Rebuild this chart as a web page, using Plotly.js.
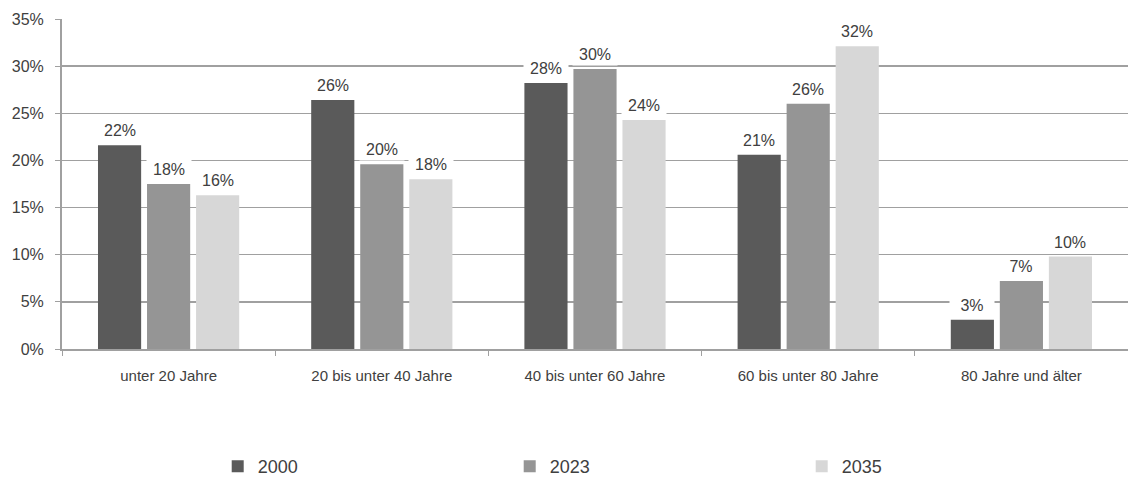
<!DOCTYPE html>
<html><head><meta charset="utf-8">
<script src="https://cdn.plot.ly/plotly-3.0.1.min.js"></script>
<style>html,body{margin:0;padding:0;background:#fff}#chart{width:1128px;height:477px}</style>
</head><body><div id="chart"></div>
<script>
const categories = ["unter 20 Jahre", "20 bis unter 40 Jahre", "40 bis unter 60 Jahre", "60 bis unter 80 Jahre", "80 Jahre und älter"];
const seriesNames = ["2000", "2023", "2035"];
const values2000 = [21.6, 26.4, 28.2, 20.6, 3.1];
const values2023 = [17.5, 19.6, 29.7, 26.0, 7.2];
const values2035 = [16.3, 18.0, 24.3, 32.1, 9.8];
const labels2000 = ["22%", "26%", "28%", "21%", "3%"];
const labels2023 = ["18%", "20%", "30%", "26%", "7%"];
const labels2035 = ["16%", "18%", "24%", "32%", "10%"];
const yTicks = [0, 5, 10, 15, 20, 25, 30, 35];

const colors = ["#5a5a5a", "#959595", "#d7d7d7"];
const seriesValues = [values2000, values2023, values2035];
const seriesLabels = [labels2000, labels2023, labels2035];
const FONT = "Liberation Sans, Arial, sans-serif";
const bargap = 0.31;
const slot = (1 - bargap) / 3;

const traces = seriesValues.map((vals, s) => ({
  type: "bar",
  name: seriesNames[s],
  x: categories,
  y: vals,
  marker: {color: colors[s], line: {width: 0}},
  hoverinfo: "skip"
}));

const annotations = [];
seriesValues.forEach((vals, s) => {
  vals.forEach((v, i) => {
    annotations.push({
      x: i + (s - 1) * slot,
      y: v,
      xref: "x", yref: "y",
      text: seriesLabels[s][i],
      showarrow: false,
      yanchor: "bottom",
      yshift: 3,
      bgcolor: "#ffffff",
      width: 42,
      height: 19,
      font: {family: FONT, size: 16, color: "#404040"}
    });
  });
});

const layout = {
  width: 1128, height: 477,
  margin: {l: 62, r: 0, t: 19, b: 128, autoexpand: false},
  paper_bgcolor: "#ffffff",
  plot_bgcolor: "#ffffff",
  barmode: "group",
  bargap: bargap,
  bargroupgap: 0.12,
  showlegend: true,
  legend: {
    orientation: "h",
    xref: "container", yref: "container",
    x: 0.193, xanchor: "left",
    y: 0.022, yanchor: "middle",
    entrywidth: 247, entrywidthmode: "pixels",
    itemwidth: 30,
    font: {family: FONT, size: 18, color: "#404040"},
    traceorder: "normal"
  },
  xaxis: {
    type: "category",
    showline: true, linecolor: "#a0a0a0", linewidth: 2,
    ticks: "outside", tickson: "boundaries", ticklen: 5, tickcolor: "#a0a0a0",
    ticklabelstandoff: 12,
    tickfont: {family: FONT, size: 15, color: "#404040"},
    showgrid: false,
    fixedrange: true
  },
  yaxis: {
    range: [0, 35],
    tickvals: yTicks,
    ticktext: yTicks.map(t => t + "%"),
    showline: true, linecolor: "#a0a0a0", linewidth: 2,
    ticks: "outside", ticklen: 5, tickcolor: "#a0a0a0",
    ticklabelstandoff: 8,
    showgrid: true, gridcolor: "#a0a0a0", gridwidth: 1.5,
    zeroline: false,
    tickfont: {family: FONT, size: 16, color: "#404040"},
    fixedrange: true
  },
  annotations: annotations
};

Plotly.newPlot("chart", traces, layout, {displayModeBar: false, staticPlot: true});
</script>
</body></html>
